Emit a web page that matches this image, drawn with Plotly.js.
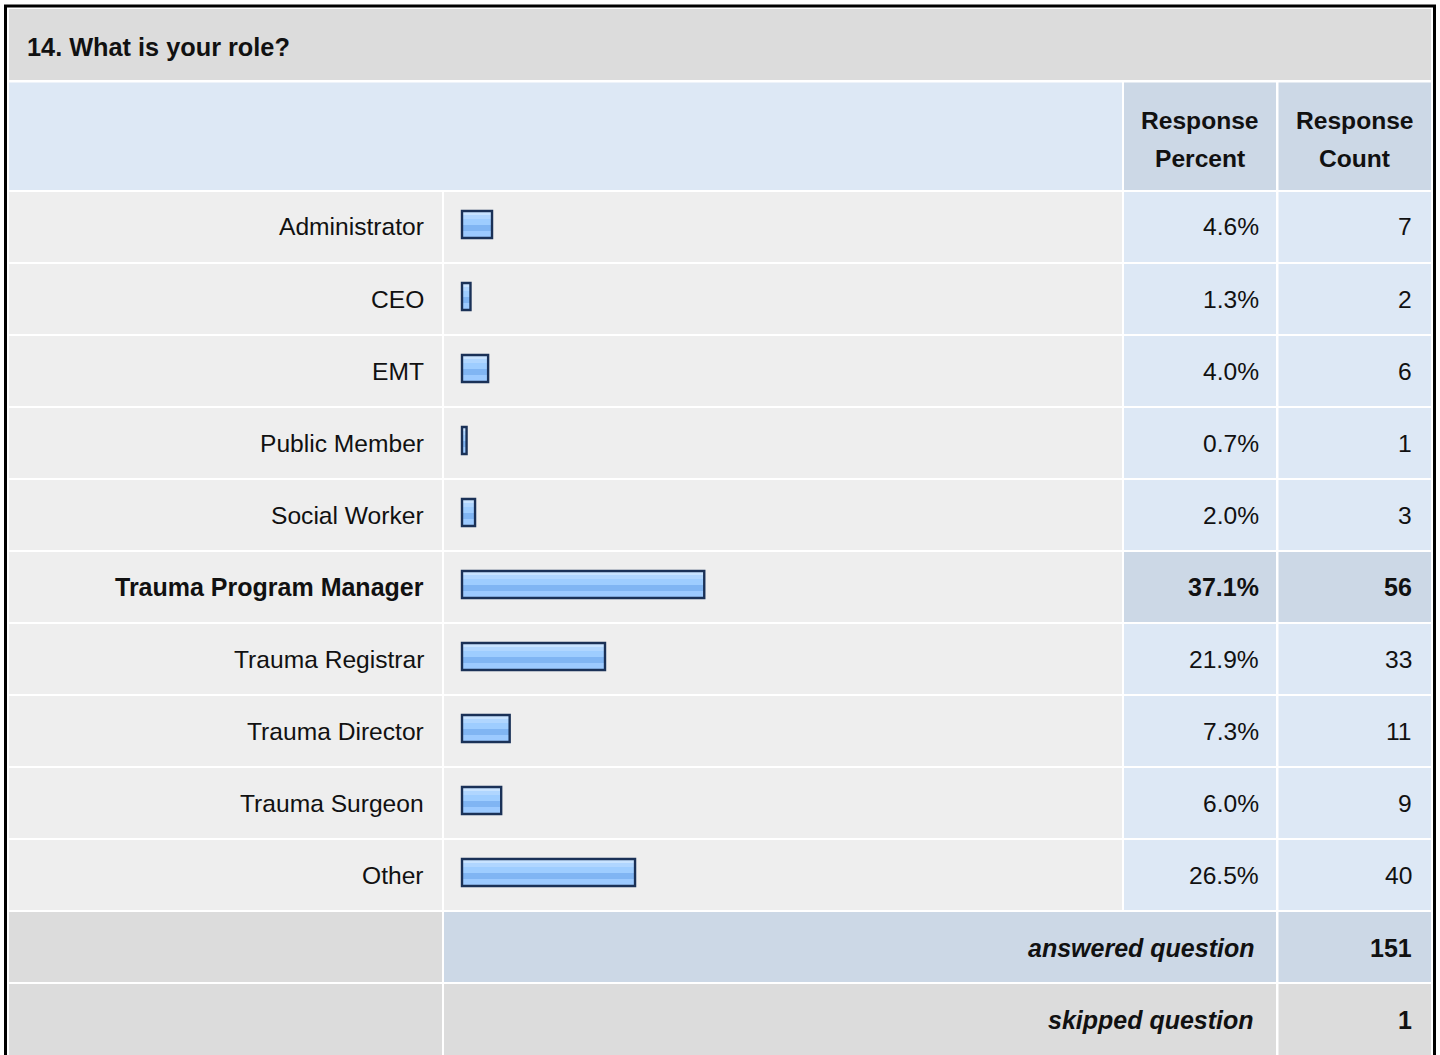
<!DOCTYPE html>
<html>
<head>
<meta charset="utf-8">
<script src="https://cdn.plot.ly/plotly-3.0.1.min.js"></script>
<style>
  html, body { margin: 0; padding: 0; background: #ffffff; }
  #chart { width: 1440px; height: 1055px; }
</style>
</head>
<body>
<div id="chart"></div>
<script>
// ---------- data ----------
const questionTitle = '14. What is your role?';
const categories = ['Administrator', 'CEO', 'EMT', 'Public Member', 'Social Worker',
  'Trauma Program Manager', 'Trauma Registrar', 'Trauma Director', 'Trauma Surgeon', 'Other'];
const responsePercent = [4.6, 1.3, 4.0, 0.7, 2.0, 37.1, 21.9, 7.3, 6.0, 26.5];
const responseCount = [7, 2, 6, 1, 3, 56, 33, 11, 9, 40];
const headerPercent = ['Response', 'Percent'];
const headerCount = ['Response', 'Count'];
const summaryLabels = ['answered question', 'skipped question'];
const summaryValues = [151, 1];

// ---------- layout helpers (pixel -> paper) ----------
const W = 1440, H = 1055;
const px = x => x / W;
const py = y => 1 - y / H;
const FONT = 'Liberation Sans, Arial, Helvetica, sans-serif';
const TXT = '#111111';

const C_TITLE = '#dcdcdc';
const C_LIGHTBLUE = '#dde8f5';
const C_DARKBLUE = '#ccd8e6';
const C_ROW = '#eeeeee';
const C_GRAY = '#dcdcdc';

const shapes = [];
function rect(x0, y0, x1, y1, color) {
  shapes.push({type: 'rect', xref: 'paper', yref: 'paper', layer: 'below',
    x0: px(x0), x1: px(x1), y0: py(y1), y1: py(y0),
    fillcolor: color, line: {width: 0}});
}

// column edges
const colL = [9, 442], colB = [444, 1122], colP = [1124, 1276], colC = [1278.5, 1431];
const rowTop = i => 192 + 72 * i;
const rowH = 70;

// frame
rect(4, 4.5, 1436, 1070, '#000000');
rect(7, 7.5, 1433, 1070, '#ffffff');
// title row
rect(9, 9, 1431, 80, C_TITLE);
// header row
rect(9, 82.5, colB[1], 190, C_LIGHTBLUE);
rect(colP[0], 82.5, colP[1], 190, C_DARKBLUE);
rect(colC[0], 82.5, colC[1], 190, C_DARKBLUE);

const maxVal = Math.max(...responsePercent);
categories.forEach((c, i) => {
  const t = rowTop(i), b = t + rowH;
  const hi = responsePercent[i] === maxVal;
  rect(colL[0], t, colL[1], b, C_ROW);
  rect(colB[0], t, colB[1], b, C_ROW);
  rect(colP[0], t, colP[1], b, hi ? C_DARKBLUE : C_LIGHTBLUE);
  rect(colC[0], t, colC[1], b, hi ? C_DARKBLUE : C_LIGHTBLUE);
});
// summary rows
{
  const t = rowTop(10), b = t + rowH;
  rect(colL[0], t, colL[1], b, C_GRAY);
  rect(colB[0], t, colP[1], b, C_DARKBLUE);
  rect(colC[0], t, colC[1], b, C_DARKBLUE);
  const t2 = rowTop(11);
  rect(colL[0], t2, colL[1], 1070, C_GRAY);
  rect(colB[0], t2, colP[1], 1070, C_GRAY);
  rect(colC[0], t2, colC[1], 1070, C_GRAY);
}

// ---------- annotations ----------
const annotations = [];
function ann(text, x, xanchor, yref, y, size, extra) {
  annotations.push(Object.assign({
    text, x: px(x), xref: 'paper', xanchor, yref, y, yanchor: 'middle',
    showarrow: false, font: {family: FONT, size, color: TXT}
  }, extra || {}));
}
ann('<b>' + questionTitle + '</b>', 25, 'left', 'paper', py(47), 25.3);
ann('<b>' + headerPercent[0] + '</b>', 1200, 'center', 'paper', py(121), 24.6);
ann('<b>' + headerPercent[1] + '</b>', 1200, 'center', 'paper', py(158), 24.6);
ann('<b>' + headerCount[0] + '</b>', 1354.75, 'center', 'paper', py(121), 24.6);
ann('<b>' + headerCount[1] + '</b>', 1354.75, 'center', 'paper', py(158), 24.6);

categories.forEach((c, i) => {
  const hi = responsePercent[i] === maxVal;
  const wrap = s => hi ? '<b>' + s + '</b>' : s;
  const sz = hi ? 25 : 24.6;
  ann(wrap(c), 426, 'right', 'y', c, sz);
  ann(wrap(responsePercent[i].toFixed(1) + '%'), 1260.5, 'right', 'y', c, sz);
  ann(wrap(String(responseCount[i])), 1414, 'right', 'y', c, sz);
});
summaryLabels.forEach((s, k) => {
  const yc = rowTop(10 + k) + 36;
  ann('<b><i>' + s + '</i></b>', 1256, 'right', 'paper', py(yc), 25);
  ann('<b>' + summaryValues[k] + '</b>', 1414, 'right', 'paper', py(yc), 25);
});

// ---------- bars ----------
const U = 72; // px per category
const barBase = {type: 'bar', orientation: 'h', y: categories, x: responsePercent,
  hoverinfo: 'skip', showlegend: false};
const stripes = [
  {o: -16, h: 27, c: '#9ecdff'},
  {o: -15, h: 3, c: '#c8e3ff'},
  {o: -12, h: 4, c: '#b0d6ff'},
  {o: -2, h: 6, c: '#80b5f3'},
  {o: 4, h: 6, c: '#9ccaff'}
];
const traces = stripes.map(s => Object.assign({}, barBase, {
  offset: s.o / U, width: s.h / U, marker: {color: s.c, line: {width: 0}}
}));
traces.push(Object.assign({}, barBase, {
  offset: -16 / U, width: 27 / U,
  marker: {color: 'rgba(0,0,0,0)', line: {color: '#1a3157', width: 2.4}}
}));

const xScale = 6.53, x0px = 462;
const layout = {
  width: W, height: H,
  margin: {l: 0, r: 0, t: 0, b: 0, pad: 0},
  paper_bgcolor: '#ffffff', plot_bgcolor: 'rgba(0,0,0,0)',
  barmode: 'overlay',
  xaxis: {domain: [px(x0px - xScale), px(x0px + 100 * xScale)], range: [-1, 100],
    showgrid: false, zeroline: false, showticklabels: false, showline: false, fixedrange: true},
  yaxis: {domain: [py(911), py(191)], type: 'category',
    categoryorder: 'array', categoryarray: categories, range: [9.5, -0.5],
    showgrid: false, zeroline: false, showticklabels: false, showline: false, fixedrange: true},
  shapes, annotations
};
Plotly.newPlot('chart', traces, layout, {displayModeBar: false, staticPlot: true});
</script>
</body>
</html>
